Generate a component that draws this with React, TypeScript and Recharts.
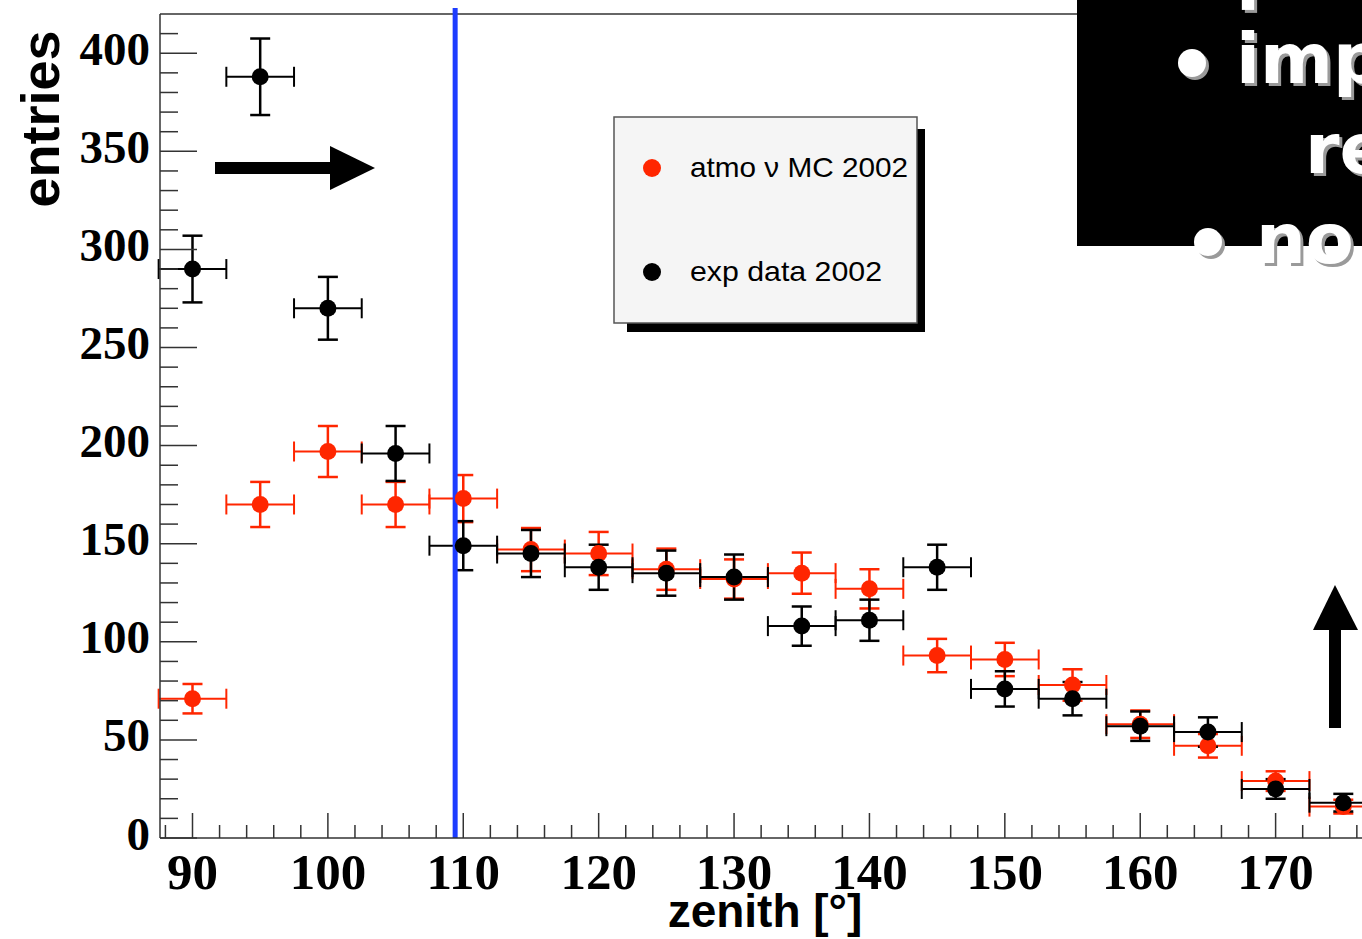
import React from 'react';
import { ComposedChart, Scatter, XAxis, YAxis, ErrorBar, ReferenceLine } from 'recharts';

// ---- data ----
const zenithBins = [90, 95, 100, 105, 110, 115, 120, 125, 130, 135, 140, 145, 150, 155, 160, 165, 170, 175];
const BIN_HALF_WIDTH = 2.5;
const mcCounts = [71, 170, 197, 170, 173, 147, 145, 137, 132, 135, 127, 93, 91, 78, 58, 47, 29, 16];
const mcErrors = [7.5, 11.5, 13, 11.5, 12, 11, 11, 10.5, 10, 10.5, 10, 8.5, 8.5, 8, 7, 6, 5, 3.5];
const expCounts = [290, 388, 270, 196, 149, 145, 138, 135, 133, 108, 111, 138, 76, 71, 57, 54, 25, 18];
const expErrors = [17, 19.5, 16, 14, 12.5, 12, 11.5, 11.5, 11.5, 10, 10.5, 11.5, 9, 8.5, 7.5, 7.5, 5, 4.5];
const cutZenith = 109.4;

const xTicks = [88, 90, 92, 94, 96, 98, 100, 102, 104, 106, 108, 110, 112, 114, 116, 118, 120, 122, 124, 126, 128, 130,
  132, 134, 136, 138, 140, 142, 144, 146, 148, 150, 152, 154, 156, 158, 160, 162, 164, 166, 168, 170, 172, 174, 176, 178, 180];
const xMajorTicks = [90, 100, 110, 120, 130, 140, 150, 160, 170, 180];
const yTicks = [0, 10, 20, 30, 40, 50, 60, 70, 80, 90, 100, 110, 120, 130, 140, 150, 160, 170, 180, 190, 200, 210, 220,
  230, 240, 250, 260, 270, 280, 290, 300, 310, 320, 330, 340, 350, 360, 370, 380, 390, 400, 410];
const yMajorTicks = [0, 50, 100, 150, 200, 250, 300, 350, 400];
const legendLabels = ['atmo \u03bd MC 2002', 'exp data 2002'];
const xTitle = 'zenith [\u00b0]';
const yTitle = 'entries';

const RED = '#ff2600';
const BLACK = '#000000';
const AXIS = '#333333';

const mcData = zenithBins.map((x, i) => ({ x, y: mcCounts[i], ey: mcErrors[i], ex: BIN_HALF_WIDTH }));
const expData = zenithBins.map((x, i) => ({ x, y: expCounts[i], ey: expErrors[i], ex: BIN_HALF_WIDTH }));

const serif = '"Liberation Serif", "Times New Roman", serif';
const sans = '"Liberation Sans", Arial, sans-serif';

const YTick = (props: any) => {
  const { x, y, payload } = props;
  const major = yMajorTicks.includes(payload.value);
  return (
    <g>
      <line x1={x} x2={x + (major ? 37 : 18)} y1={y} y2={y} stroke={AXIS} strokeWidth={1.5} />
      {major && (
        <text x={x - 10} y={y + 11.5} textAnchor="end" fontFamily={serif} fontWeight="bold" fontSize={47} fill="#000">
          {payload.value}
        </text>
      )}
    </g>
  );
};

const XTick = (props: any) => {
  const { x, y, payload } = props;
  const major = xMajorTicks.includes(payload.value);
  return (
    <g>
      <line x1={x} x2={x} y1={y} y2={y - (major ? 25 : 13)} stroke={AXIS} strokeWidth={1.5} />
      {major && (
        <text x={x} y={y + 51} textAnchor="middle" fontFamily={serif} fontWeight="bold" fontSize={51} fill="#000">
          {payload.value}
        </text>
      )}
    </g>
  );
};

const dot = (color: string) => (p: any) => <circle cx={p.cx} cy={p.cy} r={8.5} fill={color} />;

export default function App() {
  return (
    <div style={{ position: 'absolute', left: 0, top: 0, width: 1362, height: 939, overflow: 'hidden', background: '#fff' }}>
      <ComposedChart width={1420} height={939} margin={{ top: 14, right: 9, bottom: 0, left: 0 }}>
        <XAxis
          type="number"
          dataKey="x"
          domain={[87.6, 180]}
          ticks={xTicks}
          interval={0}
          allowDataOverflow
          height={101}
          tickSize={0}
          tickMargin={0}
          tickLine={false}
          axisLine={{ stroke: AXIS, strokeWidth: 1.5 }}
          tick={<XTick />}
        />
        <YAxis
          type="number"
          dataKey="y"
          domain={[0, 420]}
          ticks={yTicks}
          interval={0}
          allowDataOverflow
          width={160}
          tickSize={0}
          tickMargin={0}
          tickLine={false}
          axisLine={{ stroke: AXIS, strokeWidth: 1.5 }}
          tick={<YTick />}
        />
        <ReferenceLine y={420} stroke={AXIS} strokeWidth={1.5} />
        <Scatter data={mcData} dataKey="y" isAnimationActive={false} shape={dot(RED)}>
          <ErrorBar dataKey="ex" direction="x" width={10} stroke={RED} strokeWidth={2} />
          <ErrorBar dataKey="ey" direction="y" width={10} stroke={RED} strokeWidth={2.5} />
        </Scatter>
        <Scatter data={expData} dataKey="y" isAnimationActive={false} shape={dot(BLACK)}>
          <ErrorBar dataKey="ex" direction="x" width={10} stroke={BLACK} strokeWidth={2} />
          <ErrorBar dataKey="ey" direction="y" width={10} stroke={BLACK} strokeWidth={2.5} />
        </Scatter>
        <ReferenceLine
          segment={[{ x: cutZenith, y: 0 }, { x: cutZenith, y: 423 }]}
          stroke="#1d3cff"
          strokeWidth={5}
          ifOverflow="visible"
        />
      </ComposedChart>
      <svg width={1362} height={939} style={{ position: 'absolute', left: 0, top: 0, pointerEvents: 'none' }}>
        {/* axis titles */}
        <text transform="translate(59,119) rotate(-90)" textAnchor="middle" fontFamily={sans} fontWeight="bold" fontSize={54} fill="#000">
          {yTitle}
        </text>
        <text x={765} y={927} textAnchor="middle" fontFamily={sans} fontWeight="bold" fontSize={46} fill="#000">
          {xTitle}
        </text>
        {/* legend */}
        <rect x={627} y={129} width={298} height={203} fill="#000" />
        <rect x={614} y={117} width={303} height={206} fill="#f5f5f5" stroke="#555" strokeWidth={1.5} />
        <circle cx={652} cy={168} r={9} fill={RED} />
        <text x={690} y={177} fontFamily={sans} fontSize={28} fill="#000" textLength={218} lengthAdjust="spacingAndGlyphs">
          {legendLabels[0]}
        </text>
        <circle cx={652} cy={272} r={9} fill={BLACK} />
        <text x={690} y={281} fontFamily={sans} fontSize={28} fill="#000" textLength={192} lengthAdjust="spacingAndGlyphs">
          {legendLabels[1]}
        </text>
        {/* arrows */}
        <rect x={215} y={162} width={116} height={12} fill="#000" />
        <polygon points="330,146 330,190 375,168" fill="#000" />
        <rect x={1329} y={629} width={12} height={99} fill="#000" />
        <polygon points="1313,630 1358,630 1335,585" fill="#000" />
        {/* slide overlay box */}
        <rect x={1077} y={0} width={290} height={246} fill="#000" />
        <g fontFamily='"DejaVu Sans", sans-serif' fontWeight="bold" fontSize={70}>
          <g fill="#9a9a9a" transform="translate(3,3)">
            <text x={1236} y={10}>l</text>
            <circle cx={1192} cy={63} r={14} />
            <text x={1236} y={83}>imp</text>
            <text x={1305} y={173}>re</text>
            <circle cx={1208} cy={242} r={14} />
            <text x={1256} y={263}>no</text>
          </g>
          <g fill="#fff">
            <text x={1236} y={10}>l</text>
            <circle cx={1192} cy={63} r={14} />
            <text x={1236} y={83}>imp</text>
            <text x={1305} y={173}>re</text>
            <circle cx={1208} cy={242} r={14} />
            <text x={1256} y={263}>no</text>
          </g>
        </g>
      </svg>
    </div>
  );
}
